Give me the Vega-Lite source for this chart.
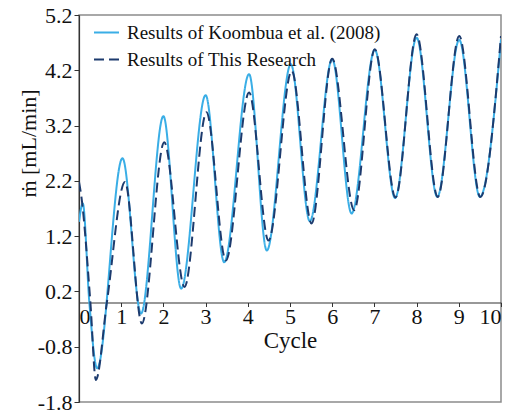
{
  "$schema": "https://vega.github.io/schema/vega-lite/v6.json",
  "width": 422,
  "height": 387,
  "autosize": {"type": "none"},
  "padding": {"left": 79, "top": 15, "right": 13, "bottom": 10},
  "background": "white",
  "config": {
    "view": {"stroke": "#8c8c8c", "strokeWidth": 1.5},
    "font": "Liberation Serif"
  },
  "data": {
    "values": [
      {"series": "Results of Koombua et al. (2008)", "cycle": 0.0, "mdot": 1.46},
      {"series": "Results of Koombua et al. (2008)", "cycle": 0.09, "mdot": 1.79},
      {"series": "Results of Koombua et al. (2008)", "cycle": 0.245, "mdot": 0.0},
      {"series": "Results of Koombua et al. (2008)", "cycle": 0.43, "mdot": -1.19},
      {"series": "Results of Koombua et al. (2008)", "cycle": 1.03, "mdot": 2.61},
      {"series": "Results of Koombua et al. (2008)", "cycle": 1.47, "mdot": -0.2},
      {"series": "Results of Koombua et al. (2008)", "cycle": 2.0, "mdot": 3.37},
      {"series": "Results of Koombua et al. (2008)", "cycle": 2.42, "mdot": 0.25},
      {"series": "Results of Koombua et al. (2008)", "cycle": 3.0, "mdot": 3.75},
      {"series": "Results of Koombua et al. (2008)", "cycle": 3.44, "mdot": 0.73},
      {"series": "Results of Koombua et al. (2008)", "cycle": 4.03, "mdot": 4.13},
      {"series": "Results of Koombua et al. (2008)", "cycle": 4.45, "mdot": 0.94},
      {"series": "Results of Koombua et al. (2008)", "cycle": 5.02, "mdot": 4.31},
      {"series": "Results of Koombua et al. (2008)", "cycle": 5.47, "mdot": 1.47},
      {"series": "Results of Koombua et al. (2008)", "cycle": 6.0, "mdot": 4.4},
      {"series": "Results of Koombua et al. (2008)", "cycle": 6.46, "mdot": 1.61},
      {"series": "Results of Koombua et al. (2008)", "cycle": 7.01, "mdot": 4.57},
      {"series": "Results of Koombua et al. (2008)", "cycle": 7.49, "mdot": 1.89},
      {"series": "Results of Koombua et al. (2008)", "cycle": 8.0, "mdot": 4.79},
      {"series": "Results of Koombua et al. (2008)", "cycle": 8.49, "mdot": 1.91},
      {"series": "Results of Koombua et al. (2008)", "cycle": 9.01, "mdot": 4.75},
      {"series": "Results of Koombua et al. (2008)", "cycle": 9.5, "mdot": 1.91},
      {"series": "Results of Koombua et al. (2008)", "cycle": 10.0, "mdot": 4.76},
      {"series": "Results of This Research", "cycle": 0.0, "mdot": 2.18},
      {"series": "Results of This Research", "cycle": 0.05, "mdot": 1.95},
      {"series": "Results of This Research", "cycle": 0.27, "mdot": 0.0},
      {"series": "Results of This Research", "cycle": 0.4, "mdot": -1.4},
      {"series": "Results of This Research", "cycle": 0.66, "mdot": 0.0},
      {"series": "Results of This Research", "cycle": 1.09, "mdot": 2.18},
      {"series": "Results of This Research", "cycle": 1.49, "mdot": -0.38},
      {"series": "Results of This Research", "cycle": 2.02, "mdot": 2.9},
      {"series": "Results of This Research", "cycle": 2.5, "mdot": 0.28},
      {"series": "Results of This Research", "cycle": 3.02, "mdot": 3.44},
      {"series": "Results of This Research", "cycle": 3.48, "mdot": 0.76},
      {"series": "Results of This Research", "cycle": 4.03, "mdot": 3.8},
      {"series": "Results of This Research", "cycle": 4.49, "mdot": 1.12},
      {"series": "Results of This Research", "cycle": 5.04, "mdot": 4.19},
      {"series": "Results of This Research", "cycle": 5.51, "mdot": 1.43},
      {"series": "Results of This Research", "cycle": 6.0, "mdot": 4.41},
      {"series": "Results of This Research", "cycle": 6.52, "mdot": 1.67},
      {"series": "Results of This Research", "cycle": 7.01, "mdot": 4.58},
      {"series": "Results of This Research", "cycle": 7.5, "mdot": 1.9},
      {"series": "Results of This Research", "cycle": 8.0, "mdot": 4.85},
      {"series": "Results of This Research", "cycle": 8.5, "mdot": 1.91},
      {"series": "Results of This Research", "cycle": 9.01, "mdot": 4.82},
      {"series": "Results of This Research", "cycle": 9.51, "mdot": 1.91},
      {"series": "Results of This Research", "cycle": 10.0, "mdot": 4.82}
    ]
  },
  "mark": {"type": "line", "interpolate": "monotone", "strokeWidth": 2, "clip": true},
  "encoding": {
    "x": {
      "field": "cycle",
      "type": "quantitative",
      "scale": {"domain": [0, 10], "nice": false, "zero": false},
      "axis": {
        "title": "Cycle",
        "values": [0, 1, 2, 3, 4, 5, 6, 7, 8, 9, 10],
        "format": "d",
        "offset": -99.5,
        "grid": false,
        "domainColor": "#333333",
        "domainWidth": 1.2,
        "tickColor": "#333333",
        "tickSize": 4,
        "labelPadding": 0,
        "labelFont": "Liberation Serif",
        "labelFontSize": 22,
        "labelColor": "#111111",
        "titleFont": "Liberation Serif",
        "titleFontSize": 23,
        "titleFontWeight": "normal",
        "titleColor": "#111111",
        "titlePadding": 2
      }
    },
    "y": {
      "field": "mdot",
      "type": "quantitative",
      "scale": {"domain": [-1.8, 5.2], "nice": false, "zero": false},
      "axis": {
        "title": "ṁ [mL/min]",
        "values": [-1.8, -0.8, 0.2, 1.2, 2.2, 3.2, 4.2, 5.2],
        "labelExpr": "replace(format(datum.value, '.1f'), '−', '-')",
        "grid": false,
        "domainColor": "#333333",
        "domainWidth": 1.2,
        "tickColor": "#333333",
        "tickSize": 5,
        "labelPadding": 2,
        "labelFont": "Liberation Serif",
        "labelFontSize": 22,
        "labelColor": "#111111",
        "titleFont": "Liberation Serif",
        "titleFontSize": 22,
        "titleFontWeight": "normal",
        "titleColor": "#111111",
        "titleAngle": -90,
        "titleX": -51,
        "titleY": 128,
        "titleAlign": "center",
        "titleBaseline": "middle"
      }
    },
    "color": {
      "field": "series",
      "type": "nominal",
      "scale": {
        "domain": ["Results of Koombua et al. (2008)", "Results of This Research"],
        "range": ["#3aaee6", "#1d3b6e"]
      },
      "legend": {
        "title": null,
        "orient": "none",
        "legendX": 14,
        "legendY": 4,
        "symbolType": "stroke",
        "symbolSize": 625,
        "symbolStrokeWidth": 2,
        "labelFont": "Liberation Serif",
        "labelFontSize": 19,
        "labelColor": "#111111",
        "labelLimit": 0,
        "labelOffset": 7,
        "rowPadding": 3,
        "padding": 0
      }
    },
    "strokeDash": {
      "field": "series",
      "type": "nominal",
      "scale": {
        "domain": ["Results of Koombua et al. (2008)", "Results of This Research"],
        "range": [[1, 0], [10, 5]]
      },
      "legend": null
    }
  }
}
